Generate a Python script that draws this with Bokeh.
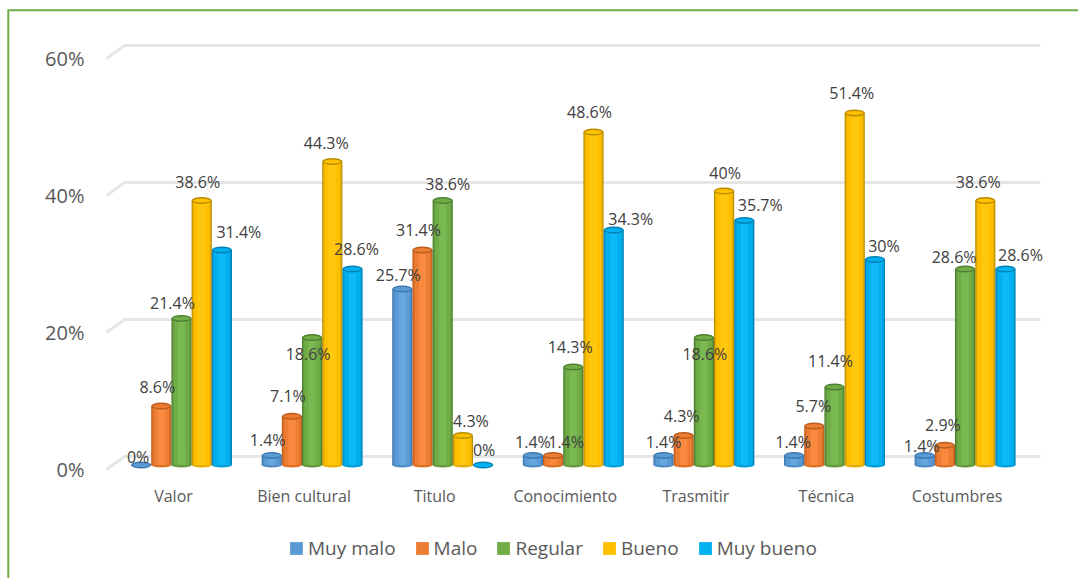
from bokeh.plotting import figure
from bokeh.embed import file_html
from bokeh.resources import INLINE
from bokeh.models import (ColumnDataSource, Range1d, FixedTicker, Legend, LegendItem)

categories = ["Valor", "Bien cultural", "Titulo", "Conocimiento", "Trasmitir", "Técnica", "Costumbres"]
muy_malo = [0, 1.4, 25.7, 1.4, 1.4, 1.4, 1.4]
malo = [8.6, 7.1, 31.4, 1.4, 4.3, 5.7, 2.9]
regular = [21.4, 18.6, 38.6, 14.3, 18.6, 11.4, 28.6]
bueno = [38.6, 44.3, 4.3, 48.6, 40, 51.4, 38.6]
muy_bueno = [31.4, 28.6, 0, 34.3, 35.7, 30, 28.6]
y_ticks = [0, 20, 40, 60]

series = [
    ("Muy malo", muy_malo, ["#3f78ae", "#4f8dc8", "#5b9bd5", "#68a6de"]),
    ("Malo", malo, ["#bb5d1e", "#dc7029", "#ed7d31", "#f98a40"]),
    ("Regular", regular, ["#507f33", "#629a3e", "#70ad47", "#7ab852"]),
    ("Bueno", bueno, ["#b98c00", "#e8af00", "#ffc000", "#ffc80f"]),
    ("Muy bueno", muy_bueno, ["#0082b5", "#009fda", "#00b0f0", "#0fb8f6"]),
]

# per-label nudges (screen px) from the top of each bar, one row per series
label_dx = [
    [-3, -4, -4, 0, 0, -1, -3],
    [-4, -4, -4, 13, -2, -1, -2],
    [-9, -4, 5, -3, 1, -4, -11],
    [-4, -6, 8, -4, 1, -3, -7],
    [17, 4, 1, 17, 16, 9, 15],
]
label_dy = [
    [-8.5, -15, -13.5, -13, -13, -13, -9],
    [-19, -20, -20, -13, -20, -20, -20],
    [-15, 16, -17, -20, 16, -26, -12],
    [-19, -19, -15, -20, -18, -20, -19],
    [-18, -20, -15, -11, -15, -14, -14],
]

W, H = 1078, 578
PX_PER_X = 130.6
PX_PER_Y = 6.85
X0_PX, Y0_PX = 173, 469


def ux(px):
    return (px - X0_PX) / PX_PER_X


def uy(px):
    return (Y0_PX - px) / PX_PER_Y


BAR = 20.2 / PX_PER_X
SHIFT = 8 / PX_PER_X
FLOOR = 4.5 / PX_PER_Y
DEPTH = 13 / PX_PER_Y

p = figure(width=W, height=H, output_backend="svg", toolbar_location=None,
           x_range=Range1d(ux(0), ux(W)), y_range=Range1d(uy(H), uy(0)),
           min_border_left=0, min_border_right=0, min_border_top=0, min_border_bottom=0,
           outline_line_color=None, background_fill_color="white", border_fill_color="white")
p.grid.visible = False

# chart-area edge (left and top only)
p.line(x=[ux(7.8), ux(7.8), ux(W)], y=[uy(H), uy(9.7), uy(9.7)],
       line_color="#70ad47", line_width=2, line_join="miter")

# floor/back wall grid lines
p.multi_line(xs=[[ux(106), ux(124), ux(1040)] for _ in y_ticks],
             ys=[[t, t + DEPTH, t + DEPTH] for t in y_ticks],
             line_color="#e6e6e6", line_width=3)

legend_items = []
for s, (name, vals, shades) in enumerate(series):
    xs = [i + SHIFT + (s - 2) * BAR for i in range(len(vals))]
    tops = [v + FLOOR for v in vals]
    src = ColumnDataSource(dict(x=xs, top=tops, bottom=[FLOOR] * len(vals)))
    p.ellipse(x="x", y="bottom", width=BAR, height=5, height_units="screen", source=src,
              fill_color=shades[1], line_color=None)
    base_r = None
    for frac, col in zip([1.0, 0.9, 0.76, 0.36], shades):
        r = p.vbar(x="x", width=BAR * frac, top="top", bottom="bottom", source=src,
                   fill_color=col, line_color=None)
        if col == shades[2]:
            base_r = r
    p.ellipse(x="x", y="top", width=BAR, height=7, height_units="screen", source=src,
              fill_color=shades[0], line_color=None)
    p.ellipse(x="x", y="top", width=BAR * 0.86, height=4, height_units="screen", source=src,
              fill_color=shades[2], line_color=None)
    legend_items.append(LegendItem(label=name, renderers=[base_r]))

for s, (name, vals, shades) in enumerate(series):
    xs = [i + SHIFT + (s - 2) * BAR for i in range(len(vals))]
    src = ColumnDataSource(dict(x=xs, y=[v + FLOOR for v in vals],
                                t=[f"{v:g}%" for v in vals],
                                dx=label_dx[s], dy=label_dy[s]))
    p.text(x="x", y="y", text="t", x_offset="dx", y_offset="dy", source=src,
           text_align="center", text_baseline="middle", text_color="#404040",
           text_font_size="16px", text_font={"value": "Open Sans"})

p.yaxis.fixed_location = ux(100)
p.yaxis.ticker = FixedTicker(ticks=y_ticks)
p.yaxis.major_label_overrides = {t: f"{t}%" for t in y_ticks}
p.yaxis.axis_line_color = None
p.yaxis.major_tick_line_color = None
p.yaxis.minor_tick_line_color = None
p.yaxis.major_label_standoff = 10
p.yaxis.major_label_text_font = "Open Sans"
p.yaxis.major_label_text_font_size = "20px"
p.yaxis.major_label_text_color = "#595959"

p.xaxis.fixed_location = uy(471)
p.xaxis.ticker = FixedTicker(ticks=list(range(len(categories))))
p.xaxis.major_label_overrides = {i: c for i, c in enumerate(categories)}
p.xaxis.axis_line_color = None
p.xaxis.major_tick_line_color = None
p.xaxis.minor_tick_line_color = None
p.xaxis.major_label_standoff = 7
p.xaxis.major_label_text_font = "Open Sans"
p.xaxis.major_label_text_font_size = "16px"
p.xaxis.major_label_text_color = "#595959"

legend = Legend(items=legend_items, orientation="horizontal", location=(288, H - 561),
                glyph_width=16, glyph_height=16, label_standoff=4, spacing=18,
                padding=0, margin=0, border_line_color=None, background_fill_alpha=0,
                label_text_font="Open Sans", label_text_font_size="19px",
                label_text_color="#595959")
p.add_layout(legend, "center")

open("out.html", "w").write(file_html(p, INLINE))
